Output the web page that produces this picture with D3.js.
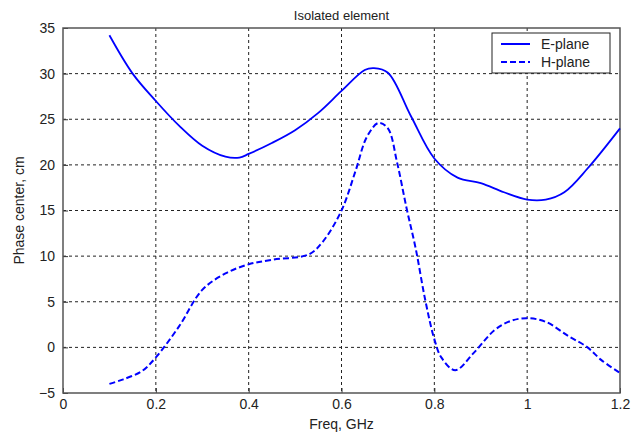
<!DOCTYPE html>
<html>
<head>
<meta charset="utf-8">
<script src="https://cdn.jsdelivr.net/npm/d3@7"></script>
<style>
  body { margin: 0; background: #fff; }
  svg text { font-family: "Liberation Sans", Arial, sans-serif; fill: #222; }
</style>
</head>
<body>
<svg id="chart" width="631" height="434"></svg>
<script>
'use strict';

// E-plane phase center (freq GHz, cm)
var eFreq = [0.10, 0.15, 0.20, 0.25, 0.30, 0.35, 0.38, 0.40, 0.45, 0.50, 0.55, 0.60, 0.65, 0.67, 0.70, 0.75, 0.80, 0.85, 0.90, 0.95, 1.00, 1.04, 1.08, 1.13, 1.20];
var eVals = [34.2, 30.0, 27.0, 24.3, 22.1, 20.9, 20.8, 21.2, 22.4, 23.8, 25.7, 28.1, 30.4, 30.6, 30.1, 25.3, 20.7, 18.6, 18.0, 17.0, 16.2, 16.2, 17.0, 19.6, 24.0];

// H-plane phase center
var hFreq = [0.10, 0.13, 0.17, 0.20, 0.25, 0.30, 0.35, 0.40, 0.45, 0.53, 0.56, 0.60, 0.63, 0.655, 0.68, 0.70, 0.72, 0.74, 0.76, 0.78, 0.80, 0.815, 0.845, 0.885, 0.93, 0.965, 1.00, 1.04, 1.09, 1.13, 1.16, 1.20];
var hVals = [-4.0, -3.5, -2.6, -1.1, 2.3, 6.3, 8.1, 9.1, 9.6, 10.2, 11.6, 15.0, 19.3, 23.1, 24.6, 24.0, 20.2, 15.3, 10.8, 5.3, 0.9, -1.1, -2.5, -0.6, 1.9, 2.9, 3.2, 2.8, 1.2, 0.0, -1.4, -2.8];

var xTicks = [0, 0.2, 0.4, 0.6, 0.8, 1, 1.2];
var yTicks = [-5, 0, 5, 10, 15, 20, 25, 30, 35];

var seriesNames = ['E-plane', 'H-plane'];

var m = {left: 63, top: 28, right: 11, bottom: 41};
var W = 631, H = 434;

var svg = d3.select('#chart');
var g = svg.append('g').attr('transform', 'translate(' + m.left + ',' + m.top + ')');
var w = W - m.left - m.right, h = H - m.top - m.bottom;

var x = d3.scaleLinear().domain([0, 1.2]).range([0, w]);
var y = d3.scaleLinear().domain([-5, 35]).range([h, 0]);

// grid
g.selectAll('.vgrid').data(xTicks.slice(1, -1)).enter().append('line')
  .attr('x1', function(d){ return x(d); }).attr('x2', function(d){ return x(d); })
  .attr('y1', 0).attr('y2', h)
  .attr('stroke', '#222').attr('stroke-width', 1).attr('stroke-dasharray', '3,3');
g.selectAll('.hgrid').data(yTicks.slice(1, -1)).enter().append('line')
  .attr('x1', 0).attr('x2', w)
  .attr('y1', function(d){ return y(d); }).attr('y2', function(d){ return y(d); })
  .attr('stroke', '#222').attr('stroke-width', 1).attr('stroke-dasharray', '3,3');

// axes
var xAxis = d3.axisBottom(x).tickValues(xTicks).tickSize(-5).tickPadding(6).tickFormat(d3.format('~g'));
var yAxis = d3.axisLeft(y).tickValues(yTicks).tickSize(-5).tickPadding(8).tickFormat(d3.format('~g'));

var gx = g.append('g').attr('transform', 'translate(0,' + h + ')').call(xAxis);
var gy = g.append('g').call(yAxis);
[gx, gy].forEach(function(a){
  a.select('.domain').remove();
  a.selectAll('line').attr('stroke', '#333');
  a.selectAll('text').style('font-size', '14px').attr('fill', '#222');
});

// box
g.append('rect').attr('x', 0).attr('y', 0).attr('width', w).attr('height', h)
  .attr('fill', 'none').attr('stroke', '#555').attr('stroke-width', 1.5);

var line = d3.line()
  .x(function(d){ return x(d[0]); })
  .y(function(d){ return y(d[1]); })
  .curve(d3.curveCatmullRom.alpha(0.5));

g.append('path').datum(d3.zip(eFreq, eVals))
  .attr('d', line).attr('fill', 'none').attr('stroke', '#0000ff').attr('stroke-width', 1.8);
g.append('path').datum(d3.zip(hFreq, hVals))
  .attr('d', line).attr('fill', 'none').attr('stroke', '#0000ff').attr('stroke-width', 2)
  .attr('stroke-dasharray', '6,3');

// legend
var lg = svg.append('g').attr('transform', 'translate(492,33)');
lg.append('rect').attr('x', 0).attr('y', 0).attr('width', 118).attr('height', 40)
  .attr('fill', '#fff').attr('stroke', '#222').attr('stroke-width', 1);
seriesNames.forEach(function(name, i){
  var yy = 11 + i * 18;
  lg.append('line').attr('x1', 9).attr('x2', 38).attr('y1', yy).attr('y2', yy)
    .attr('stroke', '#0000ff').attr('stroke-width', 2)
    .attr('stroke-dasharray', i === 1 ? '6,3' : null);
  lg.append('text').attr('x', 49).attr('y', yy + 5).style('font-size', '14px').text(name);
});

// titles
svg.append('text').attr('x', m.left + w / 2).attr('y', 20).attr('text-anchor', 'middle')
  .style('font-size', '13px').text('Isolated element');
svg.append('text').attr('x', m.left + w / 2).attr('y', 429).attr('text-anchor', 'middle')
  .style('font-size', '14px').text('Freq, GHz');
svg.append('text').attr('transform', 'translate(24,' + (m.top + h / 2) + ') rotate(-90)')
  .attr('text-anchor', 'middle').style('font-size', '14px').text('Phase center, cm');
</script>
</body>
</html>
